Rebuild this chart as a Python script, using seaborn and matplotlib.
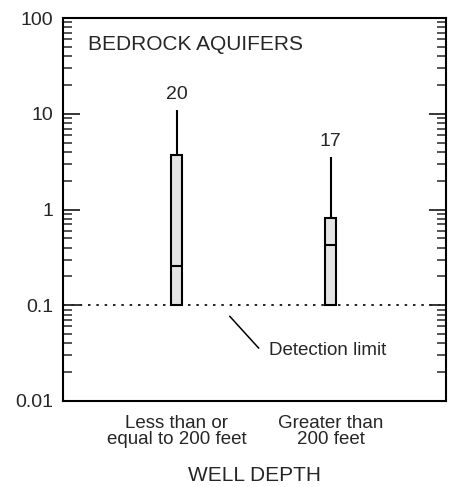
import numpy as np
import pandas as pd
import matplotlib
matplotlib.use("Agg")
import matplotlib.pyplot as plt
from matplotlib.ticker import LogLocator, FuncFormatter, NullFormatter
import seaborn as sns

# ---- data ----
depth_groups = ["Less than or\nequal to 200 feet", "Greater than\n200 feet"]
whisker_low = [0.1, 0.1]
box_low = [0.1, 0.1]
medians = [0.26, 0.43]
box_high = [3.7, 0.82]
whisker_high = [11.0, 3.5]
n_wells = [20, 17]
detection_limit = 0.1

# five summary points per group -> seaborn reproduces the box exactly
rows = []
for g, lo, q1, med, q3, hi in zip(depth_groups, whisker_low, box_low, medians, box_high, whisker_high):
    for v in (lo, q1, med, q3, hi):
        rows.append({"group": g, "value": v})
df = pd.DataFrame(rows)

sns.set_style("ticks")
plt.rcParams["font.family"] = ["Liberation Sans", "DejaVu Sans"]

fig = plt.figure(figsize=(4.51, 4.87), dpi=100)
ax = fig.add_axes([0.1397, 0.1766, 0.849, 0.7864])

sns.boxplot(data=df, x="group", y="value", order=depth_groups, whis=np.inf,
            width=0.072, log_scale=True, color="#e4e4e4", saturation=1,
            linewidth=1.5, linecolor="black", showcaps=False, ax=ax)

ax.set_ylim(0.01, 100)
ax.set_xlim(-0.74, 1.75)

# detection limit line + callout
ax.axhline(detection_limit, color="black", lw=1.2, ls=(0, (1.5, 3.5)), zorder=0)
ax.annotate("", xy=(0.344, 0.0768), xytext=(0.533, 0.0356),
            arrowprops=dict(arrowstyle="-", color="black", lw=1.1,
                            shrinkA=0, shrinkB=0))
ax.text(0.598, 0.0335, "Detection limit", fontsize=13.5, va="center", ha="left")

# well counts above whiskers
for i, (hi, n) in enumerate(zip(whisker_high, n_wells)):
    ax.annotate(str(n), xy=(i, hi), xytext=(0, 5), textcoords="offset points",
                ha="center", va="bottom", fontsize=14)

ax.text(0.065, 0.93, "BEDROCK AQUIFERS", transform=ax.transAxes,
        fontsize=15, ha="left", va="center")

# axes styling
ax.yaxis.set_major_locator(LogLocator(base=10, numticks=10))
ax.yaxis.set_minor_locator(LogLocator(base=10, subs=np.arange(2, 10), numticks=20))
ax.yaxis.set_major_formatter(FuncFormatter(lambda v, p: f"{v:g}"))
ax.yaxis.set_minor_formatter(NullFormatter())
ax.tick_params(axis="y", which="major", direction="in", length=12, width=1.3,
               left=True, right=True, labelsize=14, pad=7)
ax.tick_params(axis="y", which="minor", direction="in", length=6.5, width=1.1,
               left=True, right=True)
ax.tick_params(axis="x", length=0, labelsize=13.5, pad=10)
for lbl in ax.get_xticklabels():
    lbl.set_linespacing(0.95)
for s in ax.spines.values():
    s.set_linewidth(1.5)
    s.set_color("black")
    s.set_visible(True)

ax.set_ylabel("")
ax.set_xlabel("WELL DEPTH", fontsize=15, labelpad=13)

fig.savefig("out.png", dpi=100)
